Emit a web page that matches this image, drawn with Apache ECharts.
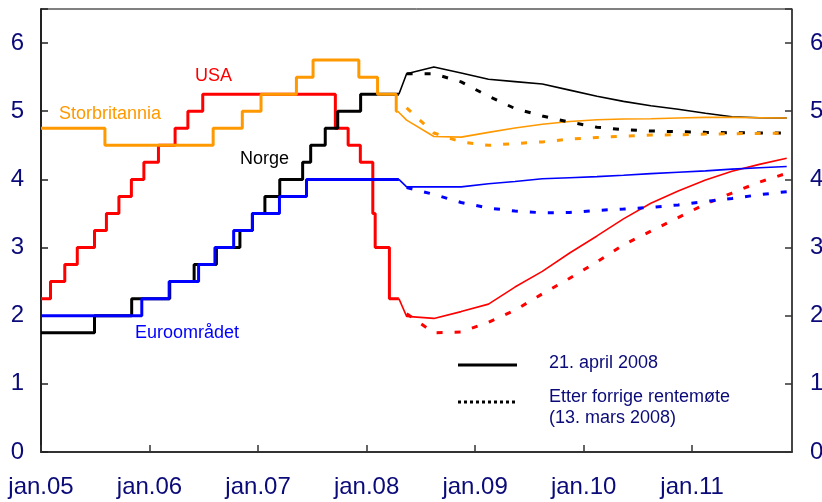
<!DOCTYPE html>
<html><head><meta charset="utf-8">
<script src="https://cdn.jsdelivr.net/npm/echarts@6/dist/echarts.min.js"></script>
<style>html,body{margin:0;padding:0;background:#fff}#c{width:822px;height:502px}</style>
</head><body><div id="c"></div>
<script>
// ---- Data ----
const xTickLabels = ['jan.05','jan.06','jan.07','jan.08','jan.09','jan.10','jan.11'];
const yTicks = [0,1,2,3,4,5,6];

// Historical policy rates (date of change, new level)
const ukDates  = ['2005-01-01','2005-08-04','2006-08-03','2006-11-09','2007-01-11','2007-05-10','2007-07-05','2007-12-06','2008-02-07','2008-04-10','2008-04-15'];
const ukRates  = [4.75,4.5,4.75,5.0,5.25,5.5,5.75,5.5,5.25,5.0,5.0];

const usDates  = ['2005-01-01','2005-02-02','2005-03-22','2005-05-03','2005-06-30','2005-08-09','2005-09-20','2005-11-01','2005-12-13','2006-01-31','2006-03-28','2006-05-10','2006-06-29','2007-09-18','2007-10-31','2007-12-11','2008-01-22','2008-01-30','2008-03-18','2008-04-19'];
const usRates  = [2.25,2.5,2.75,3.0,3.25,3.5,3.75,4.0,4.25,4.5,4.75,5.0,5.25,4.75,4.5,4.25,3.5,3.0,2.25,2.25];

const noDates  = ['2005-01-01','2005-06-30','2005-11-02','2006-03-10','2006-05-31','2006-08-14','2006-11-01','2006-12-13','2007-01-24','2007-03-15','2007-05-31','2007-06-27','2007-08-15','2007-09-26','2007-12-12','2008-04-19'];
const noRates  = [1.75,2.0,2.25,2.5,2.75,3.0,3.25,3.5,3.75,4.0,4.25,4.5,4.75,5.0,5.25,5.25];

const euDates  = ['2005-01-01','2005-12-06','2006-03-08','2006-06-15','2006-08-09','2006-10-11','2006-12-13','2007-03-14','2007-06-13','2008-04-19'];
const euRates  = [2.0,2.25,2.5,2.75,3.0,3.25,3.5,3.75,4.0,4.0];

// Forward-rate paths (quarterly)
const fcDates = ['2008-05-15','2008-08-15','2008-11-15','2009-02-15','2009-05-15','2009-08-15','2009-11-15','2010-02-15','2010-05-15','2010-08-15','2010-11-15','2011-02-15','2011-05-15','2011-08-15','2011-11-15'];
// 21. april 2008
const noNow = [5.55,5.65,5.56,5.47,5.435,5.40,5.31,5.22,5.145,5.08,5.03,4.97,4.92,4.905,4.90];
const ukNow = [4.87,4.63,4.62,4.69,4.755,4.81,4.85,4.875,4.885,4.89,4.90,4.91,4.91,4.905,4.90];
const euNow = [3.89,3.89,3.89,3.935,3.97,4.01,4.025,4.04,4.06,4.085,4.105,4.125,4.15,4.17,4.19];
const usNow = [1.99,1.96,2.06,2.17,2.42,2.65,2.92,3.17,3.42,3.65,3.83,3.99,4.12,4.22,4.31];
// Etter forrige rentemøte (13. mars 2008)
const noPrev = [5.55,5.55,5.43,5.22,5.04,4.93,4.84,4.765,4.73,4.71,4.70,4.69,4.685,4.68,4.68];
const ukPrev = [5.05,4.68,4.55,4.50,4.525,4.55,4.59,4.615,4.635,4.65,4.655,4.665,4.67,4.675,4.68];
const euPrev = [3.88,3.78,3.66,3.58,3.535,3.51,3.515,3.545,3.565,3.59,3.625,3.675,3.72,3.775,3.82];
const usPrev = [2.03,1.75,1.76,1.905,2.08,2.32,2.55,2.79,3.04,3.24,3.44,3.64,3.80,3.96,4.09];

// ---- Helpers ----
function yr(s){const [y,m,d]=s.split('-').map(Number);const t=Date.UTC(y,m-1,d),t0=Date.UTC(y,0,1),t1=Date.UTC(y+1,0,1);return y+(t-t0)/(t1-t0);}
function pts(dates, vals){return dates.map((d,i)=>[yr(d),vals[i]]);}
function fc(lastDate,lastVal,vals){return [[yr(lastDate),lastVal]].concat(pts(fcDates,vals));}

const RED='#FF0000', ORANGE='#FF9900', BLACK='#000000', BLUE='#0000FF';
const NAVY='#0A0A78';
const FONT='"Liberation Sans", Arial, sans-serif';

function hist(name,data,color){return {name,type:'line',step:'end',data,symbol:'none',lineStyle:{color,width:3},z:3};}
function now(name,data,color){return {name,type:'line',data,symbol:'none',lineStyle:{color,width:1.6},z:4};}
function prev(name,data,color){return {name,type:'line',data,symbol:'none',lineStyle:{color,width:3,type:[6,12],cap:'butt'},z:4};}

const chart = echarts.init(document.getElementById('c'),null,{renderer:'canvas'});
const yFmt = v => yTicks.includes(v) ? String(v) : '';
const xFmt = v => { const i = Math.round(v-2005); return (Math.abs(v-2005-i)<1e-6 && xTickLabels[i]) ? xTickLabels[i] : ''; };

chart.setOption({
  animation:false,
  textStyle:{fontFamily:FONT},
  grid:{left:41,top:9,width:751,height:443,show:true,borderColor:'#000',borderWidth:1,backgroundColor:'transparent',outerBoundsMode:'none',containLabel:false},
  xAxis:{type:'value',min:2005,max:2011.92,interval:1,
    axisLine:{lineStyle:{color:'#333',width:2}},
    axisTick:{inside:true,length:7,lineStyle:{color:'#333',width:1.5}},
    axisLabel:{formatter:xFmt,fontSize:24,color:NAVY,margin:23,fontFamily:FONT,showMaxLabel:false},
    splitLine:{show:false}},
  yAxis:[
    {type:'value',min:0,max:6.5,interval:1,position:'left',
      axisLine:{show:true,lineStyle:{color:'#222',width:2}},
      axisTick:{show:true,inside:true,length:7,lineStyle:{color:'#222',width:1.5}},
      axisLabel:{formatter:yFmt,fontSize:24,color:NAVY,margin:17,fontFamily:FONT},
      splitLine:{show:false}},
    {type:'value',min:0,max:6.5,interval:1,position:'right',
      axisLine:{show:true,lineStyle:{color:'#333',width:1.5}},
      axisTick:{show:true,inside:true,length:7,lineStyle:{color:'#333',width:1.5}},
      axisLabel:{formatter:yFmt,fontSize:24,color:NAVY,margin:18,fontFamily:FONT},
      splitLine:{show:false}}
  ],
  series:[
    hist('USA',pts(usDates,usRates),RED),
    hist('Norge',pts(noDates,noRates),BLACK),
    hist('Euroområdet',pts(euDates,euRates),BLUE),
    hist('Storbritannia',pts(ukDates,ukRates),ORANGE),
    now('USA 21.4',fc('2008-04-19',2.25,usNow),RED),
    now('Norge 21.4',fc('2008-04-19',5.25,noNow),BLACK),
    now('Euro 21.4',fc('2008-04-19',4.0,euNow),BLUE),
    now('UK 21.4',fc('2008-04-15',5.0,ukNow),ORANGE),
    prev('USA 13.3',pts(fcDates,usPrev),RED),
    prev('Norge 13.3',pts(fcDates,noPrev),BLACK),
    prev('Euro 13.3',pts(fcDates,euPrev),BLUE),
    prev('UK 13.3',pts(fcDates,ukPrev),ORANGE)
  ],
  graphic:[
    {type:'text',left:195,top:67,style:{text:'USA',fill:RED,font:'18px '+FONT}},
    {type:'text',left:59,top:105,style:{text:'Storbritannia',fill:ORANGE,font:'18px '+FONT}},
    {type:'text',left:240,top:150,style:{text:'Norge',fill:BLACK,font:'18px '+FONT}},
    {type:'text',left:135,top:324,style:{text:'Euroområdet',fill:BLUE,font:'18px '+FONT}},
    {type:'line',shape:{x1:458,y1:365,x2:517,y2:365},style:{stroke:'#000',lineWidth:3}},
    {type:'line',shape:{x1:458,y1:402,x2:517,y2:402},style:{stroke:'#000',lineWidth:3,lineDash:[3,3]}},
    {type:'text',left:549,top:354,style:{text:'21. april 2008',fill:NAVY,font:'18px '+FONT}},
    {type:'text',left:549,top:388,style:{text:'Etter forrige rentemøte',fill:NAVY,font:'18px '+FONT}},
    {type:'text',left:549,top:409,style:{text:'(13. mars 2008)',fill:NAVY,font:'18px '+FONT}}
  ]
});
</script></body></html>
